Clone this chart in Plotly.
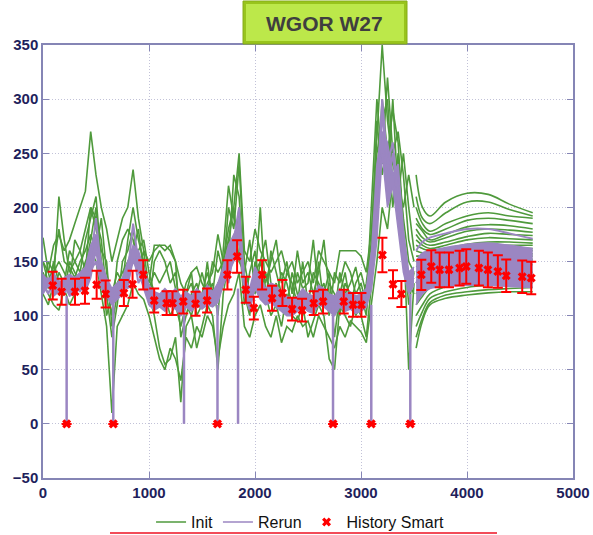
import plotly.graph_objects as go

# ---------------- data ----------------
XE = list(range(0, 3501, 50))  # sampling grid of the early part (71 points)

G1 = [150,140,165,175,160,170,185,200,215,270,
      230,200,180,150,170,190,200,235,190,160,
      150,160,165,165,160,150,130,120,140,145,
      130,120,150,140,150,170,200,250,160,150,
      180,160,150,140,150,160,140,150,130,140,
      150,130,160,150,140,130,160,160,160,160,
      155,140,180,260,350,280,240,220,200,230,200]
G2 = [120,110,130,210,170,140,150,160,180,200,
      190,170,120,80,110,150,160,180,150,130,
      120,100,70,55,60,80,20,90,100,70,
      90,110,100,50,120,150,230,210,130,110,
      130,200,120,100,110,90,120,100,95,110,
      80,95,110,100,60,50,110,100,90,110,
      100,80,130,220,300,250,290,260,180,50,130]
G3 = [172,140,120,140,130,160,150,140,170,190,
      210,150,100,120,140,130,170,200,170,150,
      110,150,160,150,130,140,100,120,130,110,
      120,140,120,160,140,200,180,240,150,120,
      140,150,170,130,120,140,130,110,140,125,
      130,170,120,130,100,140,130,150,140,120,
      130,110,200,300,240,320,250,270,230,170,150]
G4 = [130,120,110,105,125,110,120,135,150,160,
      150,120,90,10,90,100,110,130,120,115,
      100,80,60,50,70,60,40,80,70,90,
      80,100,90,60,90,110,120,140,90,80,
      100,110,90,80,100,75,90,85,100,90,
      95,80,100,90,80,70,90,80,95,90,
      85,75,110,150,200,180,230,200,150,130,120]
G5 = [150,130,145,180,150,145,135,150,160,175,
      160,190,140,110,130,140,150,160,180,140,
      130,165,165,160,165,150,80,100,120,130,
      110,130,140,175,150,180,200,150,140,170,
      120,150,130,150,170,130,150,120,160,130,
      140,120,140,170,120,100,140,120,130,145,
      120,100,160,250,280,300,220,240,190,150,140]
G6 = [125,150,140,150,140,130,170,160,140,200,
      180,160,150,90,120,125,140,150,160,170,
      140,120,110,120,100,110,90,110,100,120,
      140,120,130,100,160,220,190,170,110,140,
      160,120,140,120,130,110,140,130,110,150,
      110,140,130,120,140,80,120,140,110,130,
      140,120,140,200,260,230,300,210,250,200,160]
G7 = [140,125,150,130,120,150,140,130,145,170,
      200,140,130,100,150,170,180,170,140,160,
      125,140,130,140,150,125,110,130,140,100,
      110,150,110,130,130,170,160,200,120,100,
      150,130,110,160,140,120,110,140,120,100,
      120,110,150,110,130,120,100,130,120,100,
      110,130,170,280,230,260,200,250,170,110,140]
INIT_EARLY = [G1, G2, G3, G4, G5, G6, G7]

XL = [3520, 3580, 3650, 3800, 4000, 4200, 4400, 4620]
INIT_LATE = [
    [230, 200, 192, 205, 213, 212, 203, 195],
    [210, 190, 185, 195, 205, 205, 198, 192],
    [200, 185, 178, 185, 192, 195, 192, 190],
    [190, 180, 175, 180, 188, 190, 188, 185],
    [185, 178, 170, 175, 182, 184, 183, 180],
    [180, 172, 168, 172, 178, 180, 179, 177],
    [175, 168, 165, 168, 173, 176, 175, 174],
    [170, 165, 162, 165, 170, 172, 171, 170],
    [165, 162, 160, 162, 166, 168, 168, 167],
    [160, 158, 158, 160, 163, 165, 165, 165],
    [155, 155, 156, 158, 161, 163, 163, 162],
    [150, 152, 154, 156, 158, 160, 160, 160],
    [145, 148, 150, 153, 156, 158, 158, 157],
    [140, 145, 148, 151, 153, 155, 155, 155],
    [135, 140, 145, 148, 150, 152, 152, 152],
    [130, 136, 142, 145, 147, 149, 149, 150],
    [120, 128, 136, 140, 143, 145, 146, 147],
    [110, 118, 126, 132, 136, 138, 140, 140],
    [100, 110, 120, 127, 131, 133, 134, 135],
    [90, 104, 116, 122, 126, 128, 129, 130],
    [80, 98, 112, 119, 122, 124, 125, 126],
    [70, 95, 110, 116, 119, 121, 122, 122],
]

P1 = [130,120,135,125,120,130,125,130,135,150,
      190,140,125,115,120,125,140,185,150,135,
      120,115,110,115,112,118,110,115,110,115,
      112,118,115,120,135,150,170,200,125,115,
      135,125,115,120,118,110,108,105,110,115,
      112,110,118,115,112,110,115,110,112,110,
      110,115,140,200,290,220,250,200,160,130,135]
P2 = [120,128,118,122,128,118,120,125,122,135,
      160,125,118,110,115,120,130,150,140,125,
      110,105,108,104,110,106,100,108,104,110,
      106,110,108,112,128,140,150,170,118,105,
      125,115,110,112,108,104,100,100,104,108,
      104,102,110,108,104,100,108,104,106,102,
      104,108,125,170,250,200,220,180,140,120,128]
P3 = [138,132,140,130,135,138,135,140,145,165,
      175,150,135,125,130,135,150,165,160,145,
      128,122,120,125,120,125,118,122,118,125,
      120,128,122,130,145,165,175,185,135,125,
      145,135,125,130,128,120,118,115,118,125,
      120,118,128,125,120,118,125,120,122,118,
      120,125,160,240,270,260,230,240,180,140,145]
P4 = [125,135,125,132,122,128,132,122,138,142,
      150,130,128,120,125,130,125,160,130,140,
      115,118,114,110,116,112,114,110,114,108,
      116,114,120,116,140,130,160,190,130,120,
      130,120,118,115,122,115,112,110,114,110,
      116,114,112,120,116,114,112,116,108,114,
      116,112,150,210,300,240,260,210,170,135,140]

SPIKE_X = [223, 663, 1330, 1646, 1840, 2736, 3097, 3465]
SPIKE_TOP = [118, 115, 110, 110, 125, 108, 110, 120]

R_LOW = [110, 120, 125, 127, 128, 128, 127, 126]
R_MID = [130, 140, 145, 150, 153, 153, 152, 150]
R_UP = [150, 158, 160, 163, 166, 167, 165, 162]
R_TOP = [160, 168, 172, 176, 180, 180, 176, 171]

HIST_X = [92, 176, 223, 302, 396, 506, 591, 663, 763, 845, 946, 1049, 1166, 1222,
          1323, 1439, 1548, 1646, 1740, 1831, 1913, 1989, 2067, 2161, 2259, 2350,
          2444, 2554, 2642, 2736, 2837, 2925, 3004, 3097, 3202, 3302, 3381, 3465,
          3569, 3663, 3742, 3830, 3930, 3993, 4112, 4197, 4291, 4370, 4521, 4606]
HIST_Y = [127.8, 122, 0, 122, 123, 128.5, 120, 0, 120.8, 129, 137.7, 114, 111.5, 111.5,
          113, 111, 114, 0, 137.7, 154.6, 124, 107, 137.7, 116, 120.8, 106,
          105, 111.5, 113, 0, 113, 110, 110, 0, 156, 129, 120, 0,
          137.7, 145.4, 142.3, 142.3, 143.9, 145.4, 143.9, 142.3, 140.8, 136.8, 136, 134.7]
HIST_ERR = [12.8, 12, 0, 12, 12, 13, 12.5, 0, 12, 12.5, 13.5, 11, 11, 11,
            11, 11, 11, 0, 13.5, 15, 12, 10.5, 13.5, 11.5, 12, 10.5,
            10.5, 11, 11, 0, 11, 11, 11, 0, 16, 13, 12, 0,
            14, 15, 16, 16, 16, 16, 16, 16, 15, 15, 15, 15]

GREEN = "#4f9a3c"
PURPLE = "#9b86c2"
RED = "#ff0000"

fig = go.Figure()

# Init (green)
for k, g in enumerate(INIT_EARLY):
    fig.add_trace(go.Scatter(x=XE, y=g, mode="lines", line=dict(color=GREEN, width=1.6),
                             name="Init", legendgroup="init", showlegend=(k == 0)))
for g in INIT_LATE:
    fig.add_trace(go.Scatter(x=XL, y=g, mode="lines", line=dict(color=GREEN, width=1.6, shape="spline"),
                             name="Init", legendgroup="init", showlegend=False))

# Rerun (purple)
fig.add_trace(go.Scatter(x=XE, y=P2, mode="lines", line=dict(color=PURPLE, width=1.5),
                         name="Rerun", legendgroup="rerun", showlegend=True))
fig.add_trace(go.Scatter(x=XE, y=P3, mode="lines", line=dict(color=PURPLE, width=1.5),
                         fill="tonexty", fillcolor=PURPLE,
                         name="Rerun", legendgroup="rerun", showlegend=False))
for p in [P1, P4]:
    fig.add_trace(go.Scatter(x=XE, y=p, mode="lines", line=dict(color=PURPLE, width=2),
                             name="Rerun", legendgroup="rerun", showlegend=False))
sx, sy = [], []
for xv, top in zip(SPIKE_X, SPIKE_TOP):
    sx += [xv, xv, None]
    sy += [top, 0, None]
fig.add_trace(go.Scatter(x=sx, y=sy, mode="lines", line=dict(color=PURPLE, width=2.5),
                         name="Rerun", legendgroup="rerun", showlegend=False))
fig.add_trace(go.Scatter(x=XL, y=R_LOW, mode="lines", line=dict(color=PURPLE, width=1.5, shape="spline"),
                         name="Rerun", legendgroup="rerun", showlegend=False))
fig.add_trace(go.Scatter(x=XL, y=R_UP, mode="lines", line=dict(color=PURPLE, width=1.5, shape="spline"),
                         fill="tonexty", fillcolor=PURPLE,
                         name="Rerun", legendgroup="rerun", showlegend=False))
for r in [R_MID, R_TOP]:
    fig.add_trace(go.Scatter(x=XL, y=r, mode="lines", line=dict(color=PURPLE, width=2, shape="spline"),
                             name="Rerun", legendgroup="rerun", showlegend=False))

# History Smart (red)
fig.add_trace(go.Scatter(x=HIST_X, y=HIST_Y, mode="markers", name="History Smart",
                         marker=dict(symbol="x", size=8, color=RED),
                         error_y=dict(type="data", array=HIST_ERR, color=RED, thickness=2, width=5)))

AXC = "#8585b5"
GRIDC = "#c2c2d8"
TICKF = dict(family="Liberation Sans, Arial", size=15, color="#1f1f5c", weight="bold")
fig.update_layout(
    width=593, height=535,
    margin=dict(l=43, r=20, t=45, b=57, autoexpand=False),
    paper_bgcolor="white", plot_bgcolor="white",
    showlegend=True,
    legend=dict(orientation="h", x=0.485, xanchor="center", y=-0.102, yanchor="middle",
                font=dict(family="Liberation Sans, Arial", size=16, color="#111111"),
                itemwidth=30, tracegroupgap=0, bgcolor="rgba(0,0,0,0)"),
    xaxis=dict(range=[0, 5000], dtick=1000, showline=True, mirror="allticks", linecolor=AXC, linewidth=1.5,
               ticks="inside", ticklen=6, tickcolor=AXC, showgrid=True, gridcolor=GRIDC,
               griddash="1px,2px", zeroline=False, tickfont=TICKF),
    yaxis=dict(range=[-50, 350], dtick=50, showline=True, mirror="allticks", linecolor=AXC, linewidth=1.5,
               ticks="inside", ticklen=6, tickcolor=AXC, showgrid=True, gridcolor=GRIDC,
               griddash="1px,2px", zeroline=False, tickfont=TICKF),
    shapes=[
        dict(type="rect", xref="paper", yref="paper", x0=0.3774, x1=0.6868, y0=1.0023, y1=1.1016,
             fillcolor="#98c41c", line=dict(color="#86ad18", width=1), layer="above"),
        dict(type="rect", xref="paper", yref="paper", x0=0.3830, x1=0.6811, y0=1.0092, y1=1.0947,
             fillcolor="#bce84a", line=dict(width=0), layer="above"),
        dict(type="line", xref="paper", yref="paper", x0=0.1264, x1=0.8566, y0=-0.127, y1=-0.127,
             line=dict(color="#ee1122", width=1.5), layer="above"),
    ],
    annotations=[
        dict(text="WGOR W27", xref="paper", yref="paper", x=0.532, y=1.0485, showarrow=False,
             font=dict(family="Liberation Sans, Arial", size=21, color="#3f3f3f", weight="bold"),
             xanchor="center", yanchor="middle"),
    ],
)

fig.write_html("out.html")
